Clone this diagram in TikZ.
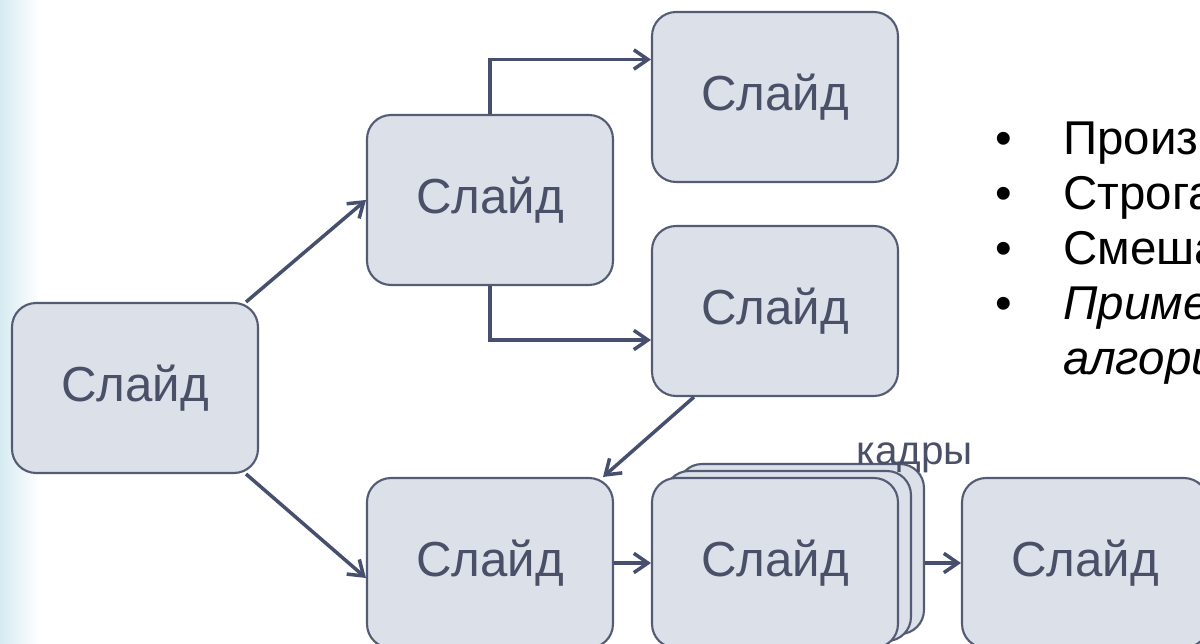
\documentclass[tikz,border=0pt]{standalone}
\usepackage{fontspec}
\setmainfont{Liberation Sans}
\usetikzlibrary{arrows.meta}
\definecolor{slidefill}{HTML}{DCE0E8}
\definecolor{slideline}{HTML}{545B74}
\definecolor{linkcol}{HTML}{46506E}
\definecolor{slidetext}{HTML}{4A5068}
\definecolor{stripcol}{HTML}{D6EBF2}
\begin{document}
\begin{tikzpicture}[x=0.02cm, y=-0.02cm,
                    slide/.style={draw=slideline, line width=1.2pt, fill=slidefill, rounded corners=0.48cm,
                                  minimum width=4.92cm, minimum height=3.4cm, inner sep=0pt,
                                  text=slidetext, font=\fontsize{28}{34}\selectfont},
                    link/.style={draw=linkcol, line width=2pt, -{Straight Barb[length=8pt,width=11pt]}},
                    item/.style={anchor=base west, inner sep=0pt, font=\fontsize{27}{32}\selectfont},
                    dot/.style={anchor=base, inner sep=0pt, font=\fontsize{27}{32}\selectfont}]
  \useasboundingbox (0,0) rectangle (1200,644);
  \clip (0,0) rectangle (1200,644);
  \shade[left color=stripcol, right color=white] (0,0) rectangle (40,644);
  \node[slide] (a) at (135,388) {Слайд};
  \node[slide] (b) at (490,200) {Слайд};
  \node[slide] (c) at (775,97) {Слайд};
  \node[slide] (d) at (775,311) {Слайд};
  \node[slide] (e) at (490,563) {Слайд};
  \node[slide] (f3) at (801,549) {};
  \node[slide] (f2) at (788,556) {};
  \node[slide] (f1) at (775,563) {Слайд};
  \node[slide] (g) at (1085,563) {Слайд};
  \node[text=slidetext, anchor=base, font=\fontsize{23}{27}\selectfont] (frames) at (915,465) {кадры};
  \draw[link] ([xshift=-0.26cm]a.north east) -- (b.west);
  \draw[link] ([xshift=-0.26cm]a.south east) -- ([yshift=-0.3cm]e.west);
  \draw[link] (b.north) |- ([yshift=0.75cm]c.west);
  \draw[link] (b.south) |- ([yshift=-0.58cm]d.west);
  \draw[link] ([xshift=0.86cm]d.south west) -- ([xshift=-0.22cm]e.north east);
  \draw[link] (e.east) -- (f1.west);
  \draw[link] (f1.east -| f3.east) -- (g.west);
  \node[dot] (dot1) at (1004,155) {•};
  \node[dot] (dot2) at (1004,210) {•};
  \node[dot] (dot3) at (1004,265) {•};
  \node[dot] (dot4) at (1004,320) {•};
  \node[item] (p1) at (1063,155) {Произ};
  \node[item] (p2) at (1063,210) {Строга};
  \node[item] (p3) at (1063,265) {Смеша};
  \node[item] (p4) at (1063,320) {\itshape Приме};
  \node[item] (p5) at (1063,375) {\itshape алгори};
\end{tikzpicture}
\end{document}
